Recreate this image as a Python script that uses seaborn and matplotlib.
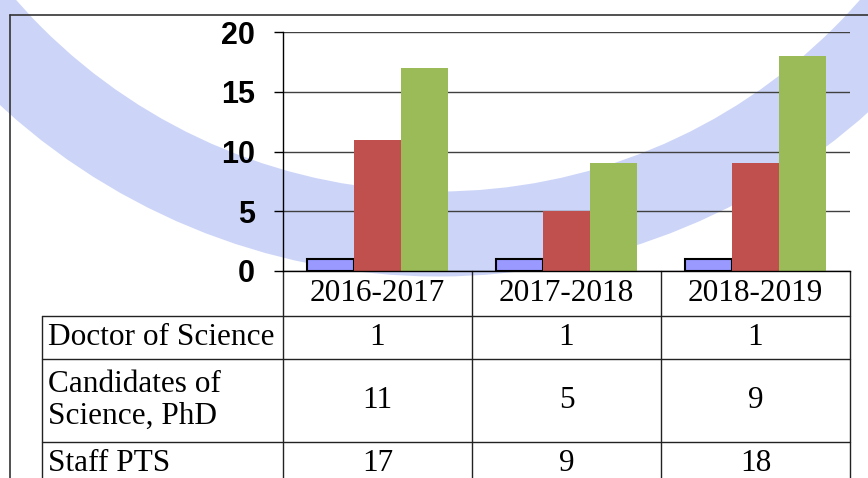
import seaborn as sns
import matplotlib.pyplot as plt
import matplotlib.transforms as mtransforms
from matplotlib.patches import Circle
import pandas as pd

years = ['2016-2017', '2017-2018', '2018-2019']
series = ['Doctor of Science', 'Candidates of\nScience, PhD', 'Staff PTS']
doctors = [1, 1, 1]
candidates = [11, 5, 9]
staff = [17, 9, 18]
colors = ['#9999FF', '#C0504D', '#9BBB59']
yticks = [0, 5, 10, 15, 20]

values = [doctors, candidates, staff]
d = pd.DataFrame({
    'year': years * len(series),
    'series': [s for s in series for _ in years],
    'value': doctors + candidates + staff,
})

sns.set_style('white')
plt.rcParams['font.family'] = ['Liberation Sans', 'DejaVu Sans']
plt.rcParams['text.color'] = 'black'
plt.rcParams['ytick.labelcolor'] = 'black'

W, H = 868, 478
fig = plt.figure(figsize=(W / 100, H / 100), dpi=100)

# background: big light-blue arc + frame
bg = fig.add_axes([0, 0, 1, 1], zorder=0)
bg.set_xlim(0, W)
bg.set_ylim(H, 0)
bg.axis('off')
bg.add_patch(Circle((438, -369), 603, fill=False, lw=85 * 0.72, ec='#CCD5F8'))
bg.plot([10, W], [15, 15], color='#333333', lw=1.2)
bg.plot([10, 10], [15, H], color='#333333', lw=1.2)

ax = fig.add_axes([283 / W, 1 - 271 / H, 567 / W, 239 / H], zorder=1)
ax.patch.set_alpha(0)

sns.barplot(data=d, x='year', y='value', hue='series', order=years, hue_order=series,
            palette=colors, width=0.75, saturation=1, legend=False, ax=ax, zorder=2,
            linewidth=0)
for p in ax.containers[0]:
    p.set_edgecolor('black')
    p.set_linewidth(1.5)

ax.set_xlim(-0.5, 2.5)
ax.set_ylim(0, 20)
ax.set_yticks(yticks)
ax.set_yticklabels([str(t) for t in yticks], fontweight='bold', color='black')
ax.yaxis.grid(True, color='#404040', lw=1)
ax.set_axisbelow(True)
ax.tick_params(axis='y', left=True, length=6.5, width=1, color='black', pad=13.5, labelsize=22)
ax.tick_params(axis='x', length=0, labelbottom=False)
ax.set_xlabel('')
ax.set_ylabel('')
for s in ['top', 'right']:
    ax.spines[s].set_visible(False)
for s in ['left', 'bottom']:
    ax.spines[s].set_color('black')
    ax.spines[s].set_linewidth(1)

# data table under the chart
px = 1 / 239
edges = [0, -45, -88, -171, -214]
tr = mtransforms.blended_transform_factory(ax.transData, ax.transAxes)
lab_x = -0.425
lc = '#222222'
serif = ['Liberation Serif', 'DejaVu Serif']
fs = 22.5

for i in range(len(years) + 1):
    ax.plot([i - 0.5, i - 0.5], [0, edges[-1] * px], transform=tr, color=lc, lw=1, clip_on=False)
ax.plot([lab_x, lab_x], [edges[1] * px, edges[-1] * px], transform=ax.transAxes, color=lc, lw=1, clip_on=False)
for e in edges[1:]:
    ax.plot([lab_x, 1], [e * px, e * px], transform=ax.transAxes, color=lc, lw=1, clip_on=False)

for i, y in enumerate(years):
    ax.text(i, (edges[0] + edges[1]) / 2 * px, y, transform=tr, ha='center', va='center',
            fontsize=fs, family=serif)
for r, name in enumerate(series):
    yc = (edges[r + 1] + edges[r + 2]) / 2 * px
    ax.text(lab_x + 0.0105, yc, name, transform=ax.transAxes, ha='left', va='center',
            fontsize=fs, family=serif, linespacing=1.15)
    for i, v in enumerate(values[r]):
        ax.text(i, yc, str(v), transform=tr, ha='center', va='center', fontsize=fs, family=serif)

plt.savefig('out.png', dpi=100)
